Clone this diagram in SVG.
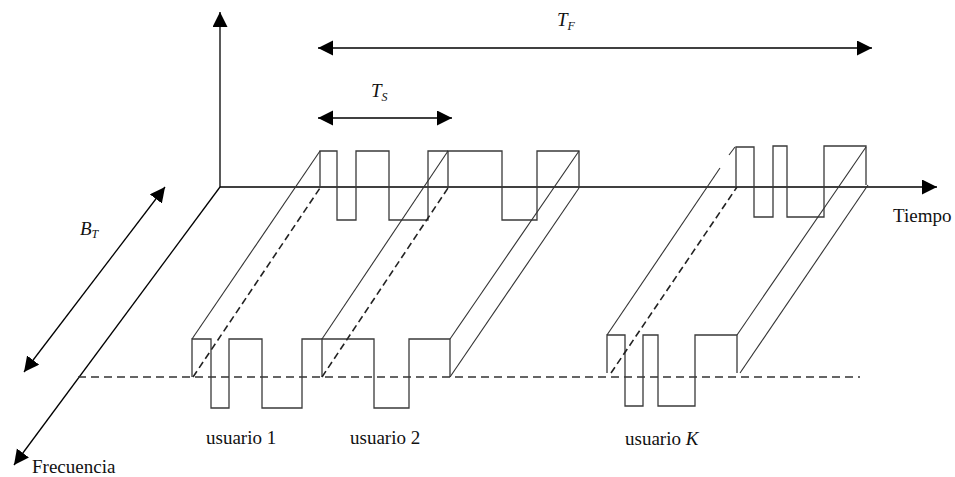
<svg xmlns="http://www.w3.org/2000/svg" width="955" height="477" viewBox="0 0 955 477">
<style>
  .ax{stroke:#000;stroke-width:1.3;fill:none}
  .w{stroke:#3a3a3a;stroke-width:1.3;fill:none}
  .sl{stroke:#333;stroke-width:1.1;fill:none}
  .ds{stroke:#222;stroke-width:1.6;fill:none;stroke-dasharray:7 4}
  .hd{stroke:#333;stroke-width:1.5;fill:none;stroke-dasharray:8 5}
  .t{font-family:"Liberation Serif","Times New Roman",serif;font-size:19px;fill:#111}
  .m{font-family:"Liberation Serif","Times New Roman",serif;font-size:19px;font-style:italic;fill:#111}
  .s{font-size:12px}
</style>
<defs>
  <marker id="ah" markerUnits="userSpaceOnUse" markerWidth="16" markerHeight="16" refX="15" refY="7.5" orient="auto-start-reverse" viewBox="0 0 16 16">
    <path d="M0,0 L15,7.5 L0,15 z" fill="#000"/>
  </marker>
</defs>

<g id="axes">
  <line class="ax" x1="220" y1="187" x2="220" y2="12" marker-end="url(#ah)"/>
  <line class="ax" x1="220" y1="187" x2="937" y2="187" marker-end="url(#ah)"/>
  <line class="ax" x1="220" y1="187" x2="14" y2="465" marker-end="url(#ah)"/>
  <line class="hd" x1="78" y1="377" x2="860" y2="377"/>
</g>

<g id="connectors">
  <line class="ax" x1="318" y1="48" x2="872" y2="48" marker-start="url(#ah)" marker-end="url(#ah)"/>
  <line class="ax" x1="318" y1="118" x2="452" y2="118" marker-start="url(#ah)" marker-end="url(#ah)"/>
  <line class="ax" x1="165" y1="187" x2="24" y2="372" marker-start="url(#ah)" marker-end="url(#ah)"/>
</g>

<g id="usuario1">
  <path class="w" d="M192,377 V339 H211 V408 H229 V339 H262 V408 H302 V339 H322"/>
  <path class="w" d="M320,188 V151 H337 V220 H356 V151 H389 V220 H428 V151 H448"/>
  <line class="sl" x1="192" y1="339" x2="320" y2="151"/>
  <line class="ds" x1="193" y1="377" x2="320" y2="188"/>
</g>

<g id="usuario2">
  <path class="w" d="M322,377 V339 H374 V408 H409 V339 H450 V377"/>
  <path class="w" d="M448,188 V151 H502 V220 H537 V151 H579 V188"/>
  <line class="sl" x1="322" y1="339" x2="448" y2="151"/>
  <line class="ds" x1="322" y1="377" x2="448" y2="188"/>
  <line class="sl" x1="450" y1="339" x2="579" y2="151"/>
  <line class="sl" x1="450" y1="377" x2="579" y2="188"/>
</g>

<g id="usuarioK">
  <path class="w" d="M607,373 V335 H625 V406 H643 V335 H658 V406 H695 V335 H737 V373"/>
  <path class="w" d="M736,187 V147 H754 V217 H773 V146 H787 V217 H824 V146 H866 V185"/>
  <line class="sl" x1="607" y1="335" x2="720" y2="168"/>
  <line class="sl" x1="729" y1="155" x2="735" y2="147"/>
  <line class="ds" x1="611" y1="373" x2="737" y2="187"/>
  <line class="sl" x1="737" y1="335" x2="866" y2="147"/>
  <line class="sl" x1="740" y1="373" x2="868" y2="185"/>
</g>

<g id="labels">
  <text class="m" x="557" y="26">T<tspan class="s" dy="4">F</tspan></text>
  <text class="m" x="371" y="97">T<tspan class="s" dy="4">S</tspan></text>
  <text class="m" x="80" y="235">B<tspan class="s" dy="3">T</tspan></text>
  <text class="t" x="893" y="222">Tiempo</text>
  <text class="t" x="32" y="473">Frecuencia</text>
  <text class="t" x="206" y="444">usuario 1</text>
  <text class="t" x="350" y="444">usuario 2</text>
  <text class="t" x="625" y="445">usuario <tspan font-style="italic">K</tspan></text>
</g>
</svg>
